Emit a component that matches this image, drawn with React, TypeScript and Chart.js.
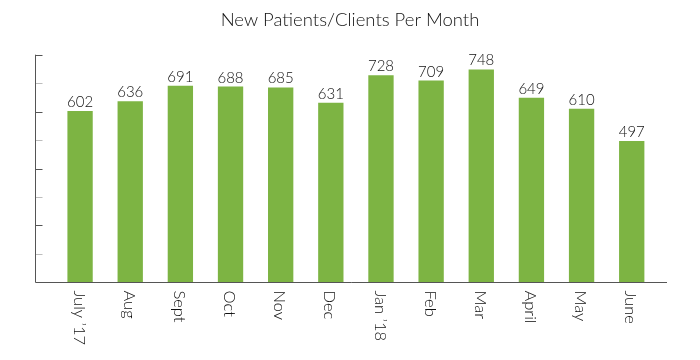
import React, { useEffect, useRef } from "react";
import { Chart, registerables } from "chart.js";

Chart.register(...registerables);

const months = ["July ’17", "Aug", "Sept", "Oct", "Nov", "Dec", "Jan ’18", "Feb", "Mar", "April", "May", "June"];
const patients = [602, 636, 691, 688, 685, 631, 728, 709, 748, 649, 610, 497];
const yTicks = [0, 100, 200, 300, 400, 500, 600, 700, 800];
const title = "New Patients/Clients Per Month";

const FONT = "Lato, 'Noto Sans', sans-serif";

const customAxes = {
  id: "customAxes",
  afterDatasetsDraw(chart: any) {
    const ctx = chart.ctx;
    const y = chart.scales.y;
    const x = chart.scales.x;
    const axisX = 35.5;
    const zeroY = Math.round(y.getPixelForValue(0)) + 0.5;
    const topY = y.getPixelForValue(800);
    ctx.save();
    yTicks.forEach((v) => {
      if (v === 0) return;
      const py = Math.round(y.getPixelForValue(v)) + 0.5;
      ctx.strokeStyle = v % 200 === 0 ? "#555555" : "#bdbdbd";
      ctx.lineWidth = 1;
      ctx.beginPath();
      ctx.moveTo(axisX, py);
      ctx.lineTo(axisX + 7, py);
      ctx.stroke();
    });
    ctx.strokeStyle = "#555555";
    ctx.lineWidth = 1;
    ctx.beginPath();
    ctx.moveTo(axisX, topY);
    ctx.lineTo(axisX, zeroY);
    ctx.stroke();
    ctx.beginPath();
    ctx.moveTo(axisX, zeroY);
    ctx.lineTo(667, zeroY);
    ctx.stroke();

    const meta = chart.getDatasetMeta(0);
    ctx.fillStyle = "#111111";
    ctx.font = `300 15px ${FONT}`;
    ctx.textAlign = "center";
    ctx.textBaseline = "alphabetic";
    meta.data.forEach((bar: any, i: number) => {
      ctx.fillText(String(patients[i]), bar.x, bar.y - 4);
    });

    ctx.font = `300 16.5px ${FONT}`;
    ctx.textAlign = "left";
    ctx.textBaseline = "middle";
    months.forEach((m, i) => {
      const px = x.getPixelForValue(i);
      ctx.save();
      ctx.translate(px - 1, zeroY + 8);
      ctx.rotate(Math.PI / 2);
      ctx.fillText(m, 0, 0);
      ctx.restore();
    });

    ctx.font = `300 18.5px ${FONT}`;
    ctx.textAlign = "center";
    ctx.textBaseline = "alphabetic";
    ctx.fillStyle = "#111111";
    ctx.fillText(title, 350, 26);
    ctx.restore();
  },
};

export default function App() {
  const ref = useRef<HTMLCanvasElement>(null);
  useEffect(() => {
    if (!ref.current) return;
    const chart = new Chart(ref.current, {
      type: "bar",
      data: {
        labels: months,
        datasets: [
          {
            data: patients,
            backgroundColor: "#7db443",
            borderWidth: 0,
            barPercentage: 0.505,
            categoryPercentage: 1,
          },
        ],
      },
      options: {
        responsive: false,
        animation: false,
        layout: { padding: { left: 55, right: 43.2, top: 54.7, bottom: 77.7 } },
        plugins: { legend: { display: false }, title: { display: false }, tooltip: { enabled: false } },
        scales: {
          x: { display: false },
          y: { display: false, min: 0, max: 800 },
        },
      },
      plugins: [customAxes],
    });
    return () => chart.destroy();
  }, []);
  return (
    <div style={{ position: "fixed", left: 0, top: 0, width: 700, height: 360, background: "#fff" }}>
      <canvas ref={ref} width={700} height={360} />
    </div>
  );
}
